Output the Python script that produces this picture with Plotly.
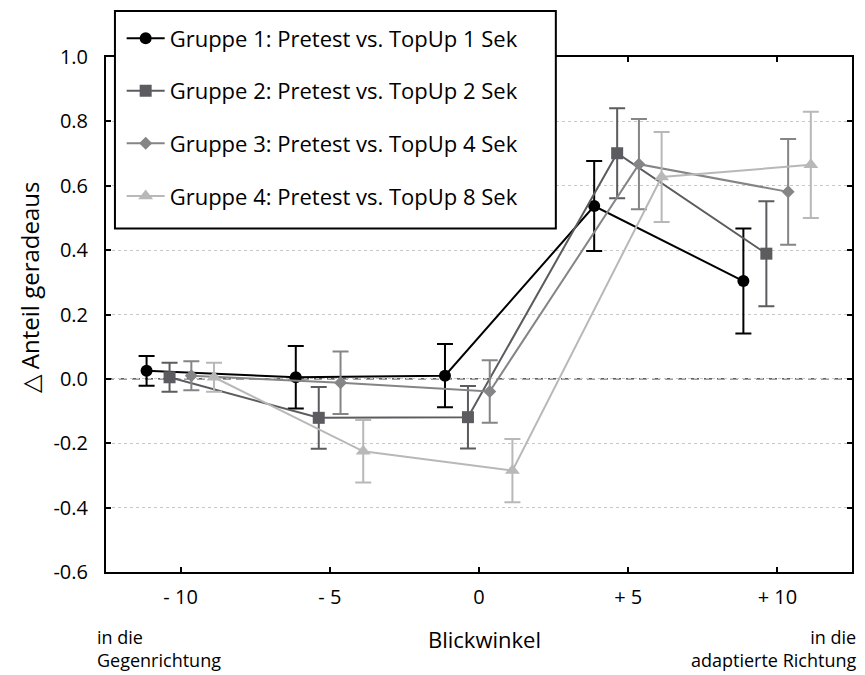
import plotly.graph_objects as go

# Blickwinkel categories (degrees) and their tick labels
angles = [-10, -5, 0, 5, 10]
tick_text = ["- 10", "- 5", "0", "+ 5", "+ 10"]

# Mean change in the share of "geradeaus" responses per group, with error half-widths
g1_mean = [0.025, 0.005, 0.010, 0.537, 0.304]
g1_err = [0.046, 0.097, 0.098, 0.140, 0.163]

g2_mean = [0.005, -0.121, -0.119, 0.701, 0.389]
g2_err = [0.045, 0.096, 0.097, 0.140, 0.163]

g3_mean = [0.010, -0.012, -0.039, 0.667, 0.581]
g3_err = [0.045, 0.097, 0.097, 0.140, 0.164]

g4_mean = [0.005, -0.225, -0.285, 0.627, 0.665]
g4_err = [0.045, 0.097, 0.098, 0.140, 0.165]

names = [
    "Gruppe 1: Pretest vs. TopUp 1 Sek",
    "Gruppe 2: Pretest vs. TopUp 2 Sek",
    "Gruppe 3: Pretest vs. TopUp 4 Sek",
    "Gruppe 4: Pretest vs. TopUp 8 Sek",
]
means = [g1_mean, g2_mean, g3_mean, g4_mean]
errs = [g1_err, g2_err, g3_err, g4_err]

# per-group horizontal dodge so the error bars don't overlap
dodge = [-1.14, -0.37, 0.36, 1.12]
colors = ["#000000", "#5c5c60", "#858587", "#b8b8b8"]
symbols = ["circle", "square", "diamond", "triangle-up"]
sizes = [12, 12, 10, 13]

FONT = "Open Sans"

fig = go.Figure()

for i in range(4):
    fig.add_trace(go.Scatter(
        x=[a + dodge[i] for a in angles],
        y=means[i],
        mode="lines+markers",
        name=names[i],
        legendgroup=f"g{i}",
        line=dict(color=colors[i], width=2),
        marker=dict(symbol=symbols[i], size=sizes[i], color=colors[i],
                    line=dict(width=0)),
        error_y=dict(type="data", array=errs[i], visible=True,
                     color=colors[i], thickness=2, width=8),
    ))

# dashed reference line at zero
fig.add_shape(type="line", xref="paper", yref="y", x0=0, x1=1, y0=0, y1=0,
              line=dict(color="#000000", width=1, dash="8px,5px"), layer="below")

# framed white box behind the legend (it overlaps the top of the plot area)
fig.add_shape(type="rect", xref="paper", yref="paper",
              x0=0.012, x1=0.603, y0=0.667, y1=1.0893,
              fillcolor="white", line=dict(color="#000", width=2), layer="above")

fig.update_xaxes(
    range=[-12.5, 12.5],
    tickvals=angles, ticktext=tick_text,
    ticks="inside", ticklen=5, tickwidth=1.5, tickcolor="#000",
    showline=True, linecolor="#000", linewidth=2, mirror="ticks",
    showgrid=False, zeroline=False,
    tickfont=dict(family=FONT, size=20, color="#000"),
    ticklabelstandoff=6,
)
fig.update_yaxes(
    range=[-0.6, 1.0],
    tickvals=[-0.6, -0.4, -0.2, 0.0, 0.2, 0.4, 0.6, 0.8, 1.0],
    ticktext=["-0.6", "-0.4", "-0.2", "0.0", "0.2", "0.4", "0.6", "0.8", "1.0"],
    ticks="inside", ticklen=5, tickwidth=1.5, tickcolor="#000",
    showline=True, linecolor="#000", linewidth=2, mirror="ticks",
    showgrid=True, gridcolor="#c8c8c8", gridwidth=1, griddash="dot",
    zeroline=False,
    tickfont=dict(family=FONT, size=20, color="#000"),
    ticklabelstandoff=12,
)

fig.add_annotation(text="△ Anteil geradeaus", xref="paper", yref="paper",
                   x=-0.103, y=0.553, textangle=-90, showarrow=False,
                   xanchor="center", yanchor="middle",
                   font=dict(family=FONT, size=24, color="#000"))
fig.add_annotation(text="Blickwinkel", xref="paper", yref="paper",
                   x=0.508, y=-0.13, showarrow=False,
                   xanchor="center", yanchor="middle",
                   font=dict(family=FONT, size=22, color="#000"))
fig.add_annotation(text="in die<br>Gegenrichtung", xref="paper", yref="paper",
                   x=-0.015, y=-0.148, showarrow=False, align="left",
                   xanchor="left", yanchor="middle",
                   font=dict(family=FONT, size=18, color="#000"))
fig.add_annotation(text="in die<br>adaptierte Richtung", xref="paper", yref="paper",
                   x=1.008, y=-0.148, showarrow=False, align="right",
                   xanchor="right", yanchor="middle",
                   font=dict(family=FONT, size=18, color="#000"))

fig.update_layout(
    width=865, height=675,
    margin=dict(l=106, r=13, t=57, b=103),
    paper_bgcolor="white", plot_bgcolor="white",
    showlegend=True,
    legend=dict(
        x=0.021, y=1.077, xanchor="left", yanchor="top",
        bgcolor="rgba(0,0,0,0)", borderwidth=0,
        font=dict(family=FONT, size=22, color="#000"),
        tracegroupgap=21, traceorder="grouped", itemwidth=38,
    ),
)

fig.write_html("out.html")
